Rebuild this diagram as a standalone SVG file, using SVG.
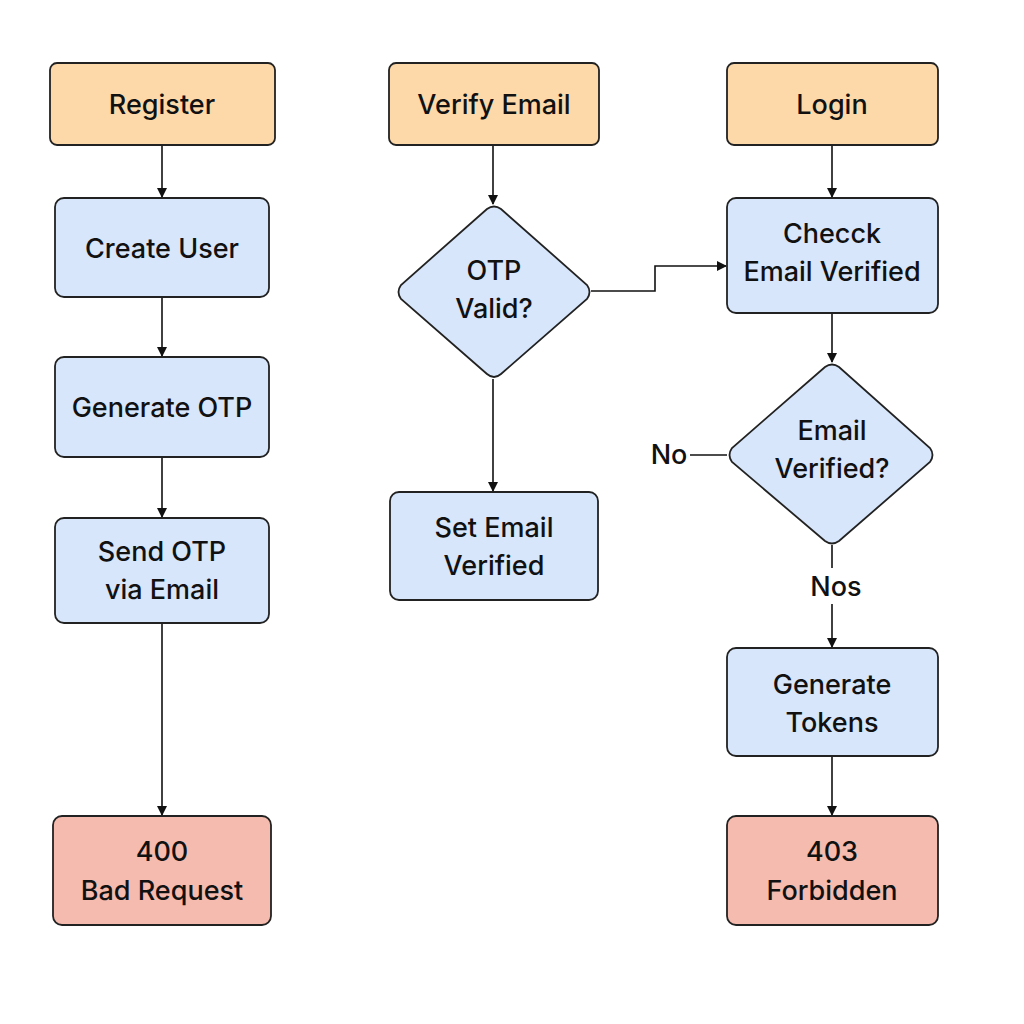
<svg xmlns="http://www.w3.org/2000/svg" width="1024" height="1024" viewBox="0 0 1024 1024">
<defs>
<marker id="arr" markerWidth="10" markerHeight="10" refX="9" refY="5" orient="auto" markerUnits="userSpaceOnUse" viewBox="0 0 10 10">
<path d="M0,0 L10,5 L0,10 z" fill="#111"/>
</marker>
<style>
.start{fill:#FDD9AA;stroke:#222;stroke-width:1.8}
.proc{fill:#D7E6FB;stroke:#222;stroke-width:1.8}
.err{fill:#F5BBAE;stroke:#222;stroke-width:1.8}
text{font-family:Inter,"Noto Sans","Liberation Sans",sans-serif;font-size:27px;font-weight:500;fill:#111;text-anchor:middle}
.c{fill:none;stroke:#111;stroke-width:1.6}
</style>
</defs>
<rect width="1024" height="1024" fill="#fff"/>
<g id="connectors">
<line class="c" x1="162" y1="145" x2="162" y2="197" marker-end="url(#arr)"/>
<line class="c" x1="162" y1="297" x2="162" y2="356" marker-end="url(#arr)"/>
<line class="c" x1="162" y1="457" x2="162" y2="517" marker-end="url(#arr)"/>
<line class="c" x1="162" y1="623" x2="162" y2="815" marker-end="url(#arr)"/>
<line class="c" x1="493" y1="145" x2="493" y2="204" marker-end="url(#arr)"/>
<line class="c" x1="493" y1="379" x2="493" y2="491" marker-end="url(#arr)"/>
<polyline class="c" points="591,291 655,291 655,266 726,266" marker-end="url(#arr)"/>
<line class="c" x1="832" y1="145" x2="832" y2="197" marker-end="url(#arr)"/>
<line class="c" x1="832" y1="313" x2="832" y2="362" marker-end="url(#arr)"/>
<line class="c" x1="690" y1="455" x2="727" y2="455"/>
<text x="669" y="464">No</text>
<line class="c" x1="832" y1="545" x2="832" y2="568"/>
<text x="836" y="596">Nos</text>
<line class="c" x1="832" y1="604" x2="832" y2="647" marker-end="url(#arr)"/>
<line class="c" x1="832" y1="756" x2="832" y2="815" marker-end="url(#arr)"/>
</g>
<g id="register"><rect class="start" x="50" y="63" width="225" height="82" rx="7"/><text x="162" y="114">Register</text></g>
<g id="create-user"><rect class="proc" x="55" y="198" width="214" height="99" rx="9"/><text x="162" y="258">Create User</text></g>
<g id="generate-otp"><rect class="proc" x="55" y="357" width="214" height="100" rx="9"/><text x="162" y="417">Generate OTP</text></g>
<g id="send-otp"><rect class="proc" x="55" y="518" width="214" height="105" rx="9"/><text x="162" y="561">Send OTP</text><text x="162" y="599">via Email</text></g>
<g id="bad-request"><rect class="err" x="53" y="816" width="218" height="109" rx="9"/><text x="162" y="861">400</text><text x="162" y="900">Bad Request</text></g>
<g id="verify-email"><rect class="start" x="389" y="63" width="210" height="82" rx="7"/><text x="494" y="114">Verify Email</text></g>
<g id="otp-valid"><path class="proc" d="M487,209 Q494,204 501,209 L587,285 Q592,292 587,299 L501,374 Q494,380 487,374 L401,299 Q396,292 401,285 Z"/><text x="494" y="280">OTP</text><text x="494" y="318">Valid?</text></g>
<g id="set-email-verified"><rect class="proc" x="390" y="492" width="208" height="108" rx="9"/><text x="494" y="537">Set Email</text><text x="494" y="575">Verified</text></g>
<g id="login"><rect class="start" x="727" y="63" width="211" height="82" rx="7"/><text x="832" y="114">Login</text></g>
<g id="check-email-verified"><rect class="proc" x="727" y="198" width="211" height="115" rx="9"/><text x="832" y="243">Checck</text><text x="832" y="281">Email Verified</text></g>
<g id="email-verified"><path class="proc" d="M825,367 Q832,362 839,367 L930,448 Q935,455 930,462 L839,541 Q832,546 825,541 L732,462 Q727,455 732,448 Z"/><text x="832" y="440">Email</text><text x="832" y="478">Verified?</text></g>
<g id="generate-tokens"><rect class="proc" x="727" y="648" width="211" height="108" rx="9"/><text x="832" y="694">Generate</text><text x="832" y="732">Tokens</text></g>
<g id="forbidden"><rect class="err" x="727" y="816" width="211" height="109" rx="9"/><text x="832" y="861">403</text><text x="832" y="900">Forbidden</text></g>
</svg>
